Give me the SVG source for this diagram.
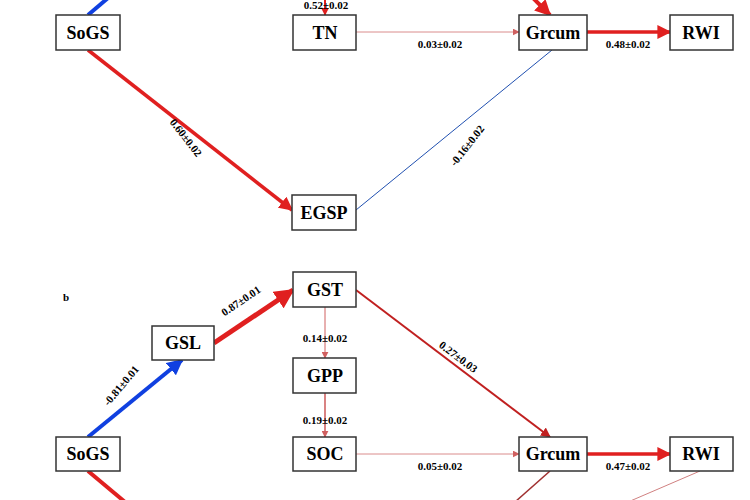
<svg xmlns="http://www.w3.org/2000/svg" width="750" height="500" viewBox="0 0 750 500">
<style>
.box{fill:#fff;stroke:#333;stroke-width:1.5}
.n{font-family:"Liberation Serif",serif;font-weight:bold;font-size:18px;text-anchor:middle}
.l{font-family:"Liberation Serif",serif;font-weight:bold;font-size:11px;text-anchor:middle}
.c{fill:none}
</style>
<defs>
<marker id="ar" viewBox="0 0 10 10" refX="9" refY="5" markerWidth="4" markerHeight="4" orient="auto" markerUnits="strokeWidth"><path d="M0,0L10,5L0,10z" fill="#e02020"/></marker>
<marker id="ar2" viewBox="0 0 10 10" refX="9" refY="5" markerWidth="7" markerHeight="7" orient="auto" markerUnits="userSpaceOnUse"><path d="M0,0L10,5L0,10z" fill="#d06060"/></marker>
<marker id="ab" viewBox="0 0 10 10" refX="9" refY="5" markerWidth="4" markerHeight="4" orient="auto" markerUnits="strokeWidth"><path d="M0,0L10,5L0,10z" fill="#1040e0"/></marker>
<marker id="ad" viewBox="0 0 10 10" refX="9" refY="5" markerWidth="5" markerHeight="5" orient="auto" markerUnits="strokeWidth"><path d="M0,0L10,5L0,10z" fill="#c02020"/></marker>
</defs>
<g id="connectors">
<line class="c" x1="88" y1="15" x2="108" y2="-2" stroke="#1040e0" stroke-width="4"/>
<line class="c" x1="325" y1="0" x2="325" y2="15" stroke="#e02020" stroke-width="2" marker-end="url(#ar)"/>
<line class="c" x1="533" y1="-2" x2="550" y2="15" stroke="#e02020" stroke-width="4" marker-end="url(#ar)"/>
<line class="c" x1="88" y1="50" x2="292" y2="210" stroke="#e02020" stroke-width="3.5" marker-end="url(#ar)"/>
<line class="c" x1="356" y1="210" x2="552" y2="50" stroke="#2050b0" stroke-width="1"/>
<line class="c" x1="356" y1="32" x2="519" y2="32" stroke="#d07070" stroke-width="0.8" marker-end="url(#ar2)"/>
<line class="c" x1="587" y1="32" x2="670" y2="32" stroke="#e02020" stroke-width="3.5" marker-end="url(#ar)"/>
<line class="c" x1="88" y1="437" x2="182" y2="360" stroke="#1040e0" stroke-width="4" marker-end="url(#ab)"/>
<line class="c" x1="214" y1="343" x2="293" y2="290" stroke="#e02020" stroke-width="5" marker-end="url(#ar)"/>
<line class="c" x1="325" y1="307" x2="325" y2="358" stroke="#d06060" stroke-width="1" marker-end="url(#ar2)"/>
<line class="c" x1="325" y1="393" x2="325" y2="437" stroke="#c03030" stroke-width="1.2" marker-end="url(#ar2)"/>
<line class="c" x1="356" y1="290" x2="550" y2="437" stroke="#c02020" stroke-width="2" marker-end="url(#ad)"/>
<line class="c" x1="356" y1="454" x2="519" y2="454" stroke="#d07070" stroke-width="0.8" marker-end="url(#ar2)"/>
<line class="c" x1="587" y1="454" x2="670" y2="454" stroke="#e02020" stroke-width="3.5" marker-end="url(#ar)"/>
<line class="c" x1="88" y1="471" x2="125" y2="502" stroke="#e02020" stroke-width="4"/>
<line class="c" x1="550" y1="471" x2="515" y2="502" stroke="#a03030" stroke-width="1.5"/>
<line class="c" x1="700" y1="471" x2="628" y2="502" stroke="#d08080" stroke-width="1"/>
<text class="l" x="326" y="9">0.52±0.02</text>
<text class="l" x="440" y="48">0.03±0.02</text>
<text class="l" x="628" y="48">0.48±0.02</text>
<text class="l" transform="translate(183,140) rotate(52)">0.60±0.02</text>
<text class="l" transform="translate(470,148) rotate(-52)">-0.16±0.02</text>
<text class="l" transform="translate(124,388) rotate(-50)">-0.81±0.01</text>
<text class="l" transform="translate(243,304) rotate(-34)">0.87±0.01</text>
<text class="l" x="325" y="342">0.14±0.02</text>
<text class="l" x="325" y="424">0.19±0.02</text>
<text class="l" transform="translate(456,360) rotate(37)">0.27±0.03</text>
<text class="l" x="440" y="470">0.05±0.02</text>
<text class="l" x="628" y="470">0.47±0.02</text>
</g>
<text class="l" x="66" y="301" font-size="12">b</text>
<g id="SoGS_a"><rect class="box" x="56" y="15" width="64" height="35"/><text class="n" x="88" y="39">SoGS</text></g>
<g id="TN"><rect class="box" x="293" y="15" width="63" height="35"/><text class="n" x="325" y="39">TN</text></g>
<g id="Grcum_a"><rect class="box" x="519" y="15" width="68" height="35"/><text class="n" x="553" y="39">Grcum</text></g>
<g id="RWI_a"><rect class="box" x="670" y="15" width="63" height="35"/><text class="n" x="701" y="39">RWI</text></g>
<g id="EGSP"><rect class="box" x="292" y="195" width="64" height="35"/><text class="n" x="324" y="219">EGSP</text></g>
<g id="GST"><rect class="box" x="293" y="272" width="63" height="35"/><text class="n" x="325" y="296">GST</text></g>
<g id="GSL"><rect class="box" x="152" y="326" width="62" height="34"/><text class="n" x="183" y="349">GSL</text></g>
<g id="GPP"><rect class="box" x="293" y="358" width="63" height="35"/><text class="n" x="325" y="382">GPP</text></g>
<g id="SOC"><rect class="box" x="293" y="437" width="63" height="34"/><text class="n" x="325" y="460">SOC</text></g>
<g id="SoGS_b"><rect class="box" x="56" y="437" width="64" height="34"/><text class="n" x="88" y="460">SoGS</text></g>
<g id="Grcum_b"><rect class="box" x="519" y="437" width="68" height="34"/><text class="n" x="553" y="460">Grcum</text></g>
<g id="RWI_b"><rect class="box" x="670" y="437" width="63" height="34"/><text class="n" x="701" y="460">RWI</text></g>
</svg>
